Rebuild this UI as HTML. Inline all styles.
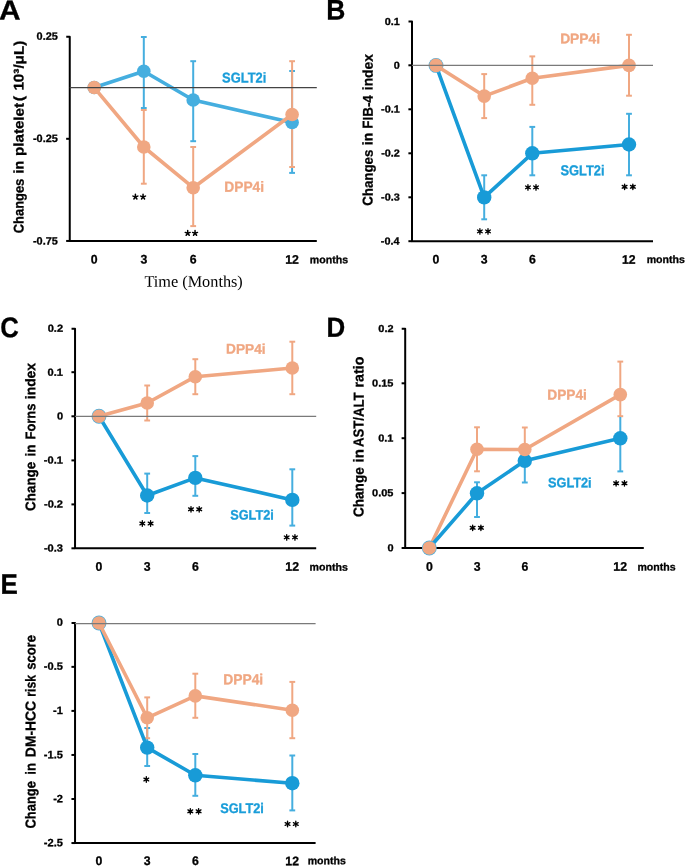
<!DOCTYPE html>
<html><head><meta charset="utf-8"><style>
html,body{margin:0;padding:0;background:#fff;width:685px;height:866px;overflow:hidden}
svg{display:block;will-change:transform}
</style></head><body>
<svg width="685" height="866" viewBox="0 0 685 866">
<path d="M66.25,36.75 H69.75 V240.95 H316.8" fill="none" stroke="#000" stroke-width="2" stroke-linejoin="round"/>
<line x1="66.15" y1="138.8" x2="69.75" y2="138.8" stroke="#000" stroke-width="2.0" stroke-linecap="butt"/>
<line x1="66.15" y1="240.95" x2="69.75" y2="240.95" stroke="#000" stroke-width="2.0" stroke-linecap="butt"/>
<line x1="143.8" y1="37" x2="143.8" y2="108" stroke="#45AEDF" stroke-width="2.0" stroke-linecap="butt"/>
<line x1="140.9" y1="37" x2="146.7" y2="37" stroke="#45AEDF" stroke-width="2.0" stroke-linecap="butt"/>
<line x1="140.9" y1="108" x2="146.7" y2="108" stroke="#45AEDF" stroke-width="2.0" stroke-linecap="butt"/>
<line x1="193.2" y1="61.2" x2="193.2" y2="141.2" stroke="#45AEDF" stroke-width="2.0" stroke-linecap="butt"/>
<line x1="190.3" y1="61.2" x2="196.1" y2="61.2" stroke="#45AEDF" stroke-width="2.0" stroke-linecap="butt"/>
<line x1="190.3" y1="141.2" x2="196.1" y2="141.2" stroke="#45AEDF" stroke-width="2.0" stroke-linecap="butt"/>
<line x1="292.1" y1="71" x2="292.1" y2="172.9" stroke="#45AEDF" stroke-width="2.0" stroke-linecap="butt"/>
<line x1="289.2" y1="71" x2="295" y2="71" stroke="#45AEDF" stroke-width="2.0" stroke-linecap="butt"/>
<line x1="289.2" y1="172.9" x2="295" y2="172.9" stroke="#45AEDF" stroke-width="2.0" stroke-linecap="butt"/>
<line x1="143.8" y1="110" x2="143.8" y2="183.7" stroke="#F0A782" stroke-width="2.0" stroke-linecap="butt"/>
<line x1="140.9" y1="110" x2="146.7" y2="110" stroke="#F0A782" stroke-width="2.0" stroke-linecap="butt"/>
<line x1="140.9" y1="183.7" x2="146.7" y2="183.7" stroke="#F0A782" stroke-width="2.0" stroke-linecap="butt"/>
<line x1="193.2" y1="147" x2="193.2" y2="226.1" stroke="#F0A782" stroke-width="2.0" stroke-linecap="butt"/>
<line x1="190.3" y1="147" x2="196.1" y2="147" stroke="#F0A782" stroke-width="2.0" stroke-linecap="butt"/>
<line x1="190.3" y1="226.1" x2="196.1" y2="226.1" stroke="#F0A782" stroke-width="2.0" stroke-linecap="butt"/>
<line x1="292.1" y1="61.2" x2="292.1" y2="167" stroke="#F0A782" stroke-width="2.0" stroke-linecap="butt"/>
<line x1="289.2" y1="61.2" x2="295" y2="61.2" stroke="#F0A782" stroke-width="2.0" stroke-linecap="butt"/>
<line x1="289.2" y1="167" x2="295" y2="167" stroke="#F0A782" stroke-width="2.0" stroke-linecap="butt"/>
<polyline points="94.2,87.55 143.8,71.3 193.2,100 292.1,122.5" fill="none" stroke="#45AEDF" stroke-width="3.6" stroke-linejoin="round" stroke-linecap="round"/>
<circle cx="94.2" cy="87.55" r="6.8" fill="#45AEDF"/>
<circle cx="143.8" cy="71.3" r="6.8" fill="#45AEDF"/>
<circle cx="193.2" cy="100" r="6.8" fill="#45AEDF"/>
<circle cx="292.1" cy="122.5" r="6.8" fill="#45AEDF"/>
<polyline points="94.2,87.55 143.8,147 193.2,187.7 292.1,114.5" fill="none" stroke="#F0A782" stroke-width="3.6" stroke-linejoin="round" stroke-linecap="round"/>
<circle cx="94.2" cy="87.55" r="6.8" fill="#F0A782"/>
<circle cx="143.8" cy="147" r="6.8" fill="#F0A782"/>
<circle cx="193.2" cy="187.7" r="6.8" fill="#F0A782"/>
<circle cx="292.1" cy="114.5" r="6.8" fill="#F0A782"/>
<path d="M408.5,21.6 H412 V241.2 H653" fill="none" stroke="#000" stroke-width="2" stroke-linejoin="round"/>
<line x1="408.4" y1="65.3" x2="412" y2="65.3" stroke="#000" stroke-width="2.0" stroke-linecap="butt"/>
<line x1="408.4" y1="109.3" x2="412" y2="109.3" stroke="#000" stroke-width="2.0" stroke-linecap="butt"/>
<line x1="408.4" y1="153.3" x2="412" y2="153.3" stroke="#000" stroke-width="2.0" stroke-linecap="butt"/>
<line x1="408.4" y1="197.3" x2="412" y2="197.3" stroke="#000" stroke-width="2.0" stroke-linecap="butt"/>
<line x1="408.4" y1="241.2" x2="412" y2="241.2" stroke="#000" stroke-width="2.0" stroke-linecap="butt"/>
<line x1="484.2" y1="175.3" x2="484.2" y2="219.3" stroke="#45AEDF" stroke-width="2.0" stroke-linecap="butt"/>
<line x1="481.3" y1="175.3" x2="487.1" y2="175.3" stroke="#45AEDF" stroke-width="2.0" stroke-linecap="butt"/>
<line x1="481.3" y1="219.3" x2="487.1" y2="219.3" stroke="#45AEDF" stroke-width="2.0" stroke-linecap="butt"/>
<line x1="532.3" y1="126.9" x2="532.3" y2="175.3" stroke="#45AEDF" stroke-width="2.0" stroke-linecap="butt"/>
<line x1="529.4" y1="126.9" x2="535.2" y2="126.9" stroke="#45AEDF" stroke-width="2.0" stroke-linecap="butt"/>
<line x1="529.4" y1="175.3" x2="535.2" y2="175.3" stroke="#45AEDF" stroke-width="2.0" stroke-linecap="butt"/>
<line x1="629" y1="113.8" x2="629" y2="175.3" stroke="#45AEDF" stroke-width="2.0" stroke-linecap="butt"/>
<line x1="626.1" y1="113.8" x2="631.9" y2="113.8" stroke="#45AEDF" stroke-width="2.0" stroke-linecap="butt"/>
<line x1="626.1" y1="175.3" x2="631.9" y2="175.3" stroke="#45AEDF" stroke-width="2.0" stroke-linecap="butt"/>
<line x1="484.2" y1="74.1" x2="484.2" y2="118.1" stroke="#F0A782" stroke-width="2.0" stroke-linecap="butt"/>
<line x1="481.3" y1="74.1" x2="487.1" y2="74.1" stroke="#F0A782" stroke-width="2.0" stroke-linecap="butt"/>
<line x1="481.3" y1="118.1" x2="487.1" y2="118.1" stroke="#F0A782" stroke-width="2.0" stroke-linecap="butt"/>
<line x1="532.3" y1="56.4" x2="532.3" y2="104.8" stroke="#F0A782" stroke-width="2.0" stroke-linecap="butt"/>
<line x1="529.4" y1="56.4" x2="535.2" y2="56.4" stroke="#F0A782" stroke-width="2.0" stroke-linecap="butt"/>
<line x1="529.4" y1="104.8" x2="535.2" y2="104.8" stroke="#F0A782" stroke-width="2.0" stroke-linecap="butt"/>
<line x1="629" y1="34.8" x2="629" y2="95.7" stroke="#F0A782" stroke-width="2.0" stroke-linecap="butt"/>
<line x1="626.1" y1="34.8" x2="631.9" y2="34.8" stroke="#F0A782" stroke-width="2.0" stroke-linecap="butt"/>
<line x1="626.1" y1="95.7" x2="631.9" y2="95.7" stroke="#F0A782" stroke-width="2.0" stroke-linecap="butt"/>
<polyline points="436,65.4 484.2,197.4 532.3,153.3 629,144.5" fill="none" stroke="#189BD7" stroke-width="3.6" stroke-linejoin="round" stroke-linecap="round"/>
<circle cx="436" cy="65.4" r="7.45" fill="#45AEDF"/>
<circle cx="484.2" cy="197.4" r="7.2" fill="#189BD7"/>
<circle cx="532.3" cy="153.3" r="7.2" fill="#189BD7"/>
<circle cx="629" cy="144.5" r="7.2" fill="#189BD7"/>
<polyline points="436,65.4 484.2,96.1 532.3,78.3 629,65.4" fill="none" stroke="#F0A782" stroke-width="3.6" stroke-linejoin="round" stroke-linecap="round"/>
<circle cx="436" cy="65.4" r="6.8" fill="#F0A782"/>
<circle cx="484.2" cy="96.1" r="6.8" fill="#F0A782"/>
<circle cx="532.3" cy="78.3" r="6.8" fill="#F0A782"/>
<circle cx="629" cy="65.4" r="6.8" fill="#F0A782"/>
<path d="M71.54,328.75 H75.04 V548.3 H316.2" fill="none" stroke="#000" stroke-width="2" stroke-linejoin="round"/>
<line x1="71.44" y1="372.2" x2="75.04" y2="372.2" stroke="#000" stroke-width="2.0" stroke-linecap="butt"/>
<line x1="71.44" y1="416.3" x2="75.04" y2="416.3" stroke="#000" stroke-width="2.0" stroke-linecap="butt"/>
<line x1="71.44" y1="460.4" x2="75.04" y2="460.4" stroke="#000" stroke-width="2.0" stroke-linecap="butt"/>
<line x1="71.44" y1="504.4" x2="75.04" y2="504.4" stroke="#000" stroke-width="2.0" stroke-linecap="butt"/>
<line x1="71.44" y1="548.3" x2="75.04" y2="548.3" stroke="#000" stroke-width="2.0" stroke-linecap="butt"/>
<line x1="147.2" y1="473.6" x2="147.2" y2="513" stroke="#45AEDF" stroke-width="2.0" stroke-linecap="butt"/>
<line x1="144.3" y1="473.6" x2="150.1" y2="473.6" stroke="#45AEDF" stroke-width="2.0" stroke-linecap="butt"/>
<line x1="144.3" y1="513" x2="150.1" y2="513" stroke="#45AEDF" stroke-width="2.0" stroke-linecap="butt"/>
<line x1="195.3" y1="456.1" x2="195.3" y2="495.8" stroke="#45AEDF" stroke-width="2.0" stroke-linecap="butt"/>
<line x1="192.4" y1="456.1" x2="198.2" y2="456.1" stroke="#45AEDF" stroke-width="2.0" stroke-linecap="butt"/>
<line x1="192.4" y1="495.8" x2="198.2" y2="495.8" stroke="#45AEDF" stroke-width="2.0" stroke-linecap="butt"/>
<line x1="292.3" y1="469.3" x2="292.3" y2="525.6" stroke="#45AEDF" stroke-width="2.0" stroke-linecap="butt"/>
<line x1="289.4" y1="469.3" x2="295.2" y2="469.3" stroke="#45AEDF" stroke-width="2.0" stroke-linecap="butt"/>
<line x1="289.4" y1="525.6" x2="295.2" y2="525.6" stroke="#45AEDF" stroke-width="2.0" stroke-linecap="butt"/>
<line x1="147.2" y1="385.5" x2="147.2" y2="420.5" stroke="#F0A782" stroke-width="2.0" stroke-linecap="butt"/>
<line x1="144.3" y1="385.5" x2="150.1" y2="385.5" stroke="#F0A782" stroke-width="2.0" stroke-linecap="butt"/>
<line x1="144.3" y1="420.5" x2="150.1" y2="420.5" stroke="#F0A782" stroke-width="2.0" stroke-linecap="butt"/>
<line x1="195.3" y1="359.2" x2="195.3" y2="394.2" stroke="#F0A782" stroke-width="2.0" stroke-linecap="butt"/>
<line x1="192.4" y1="359.2" x2="198.2" y2="359.2" stroke="#F0A782" stroke-width="2.0" stroke-linecap="butt"/>
<line x1="192.4" y1="394.2" x2="198.2" y2="394.2" stroke="#F0A782" stroke-width="2.0" stroke-linecap="butt"/>
<line x1="292.3" y1="341.7" x2="292.3" y2="394.2" stroke="#F0A782" stroke-width="2.0" stroke-linecap="butt"/>
<line x1="289.4" y1="341.7" x2="295.2" y2="341.7" stroke="#F0A782" stroke-width="2.0" stroke-linecap="butt"/>
<line x1="289.4" y1="394.2" x2="295.2" y2="394.2" stroke="#F0A782" stroke-width="2.0" stroke-linecap="butt"/>
<polyline points="99,416.3 147.2,495.5 195.3,477.9 292.3,499.9" fill="none" stroke="#189BD7" stroke-width="3.6" stroke-linejoin="round" stroke-linecap="round"/>
<circle cx="99" cy="416.3" r="7.45" fill="#45AEDF"/>
<circle cx="147.2" cy="495.5" r="7.2" fill="#189BD7"/>
<circle cx="195.3" cy="477.9" r="7.2" fill="#189BD7"/>
<circle cx="292.3" cy="499.9" r="7.2" fill="#189BD7"/>
<polyline points="99,416.3 147.2,403 195.3,376.7 292.3,368" fill="none" stroke="#F0A782" stroke-width="3.6" stroke-linejoin="round" stroke-linecap="round"/>
<circle cx="99" cy="416.3" r="6.8" fill="#F0A782"/>
<circle cx="147.2" cy="403" r="6.8" fill="#F0A782"/>
<circle cx="195.3" cy="376.7" r="6.8" fill="#F0A782"/>
<circle cx="292.3" cy="368" r="6.8" fill="#F0A782"/>
<path d="M401.7,328.85 H405.2 V548 H643.8" fill="none" stroke="#000" stroke-width="2" stroke-linejoin="round"/>
<line x1="401.6" y1="383.3" x2="405.2" y2="383.3" stroke="#000" stroke-width="2.0" stroke-linecap="butt"/>
<line x1="401.6" y1="438.2" x2="405.2" y2="438.2" stroke="#000" stroke-width="2.0" stroke-linecap="butt"/>
<line x1="401.6" y1="493.1" x2="405.2" y2="493.1" stroke="#000" stroke-width="2.0" stroke-linecap="butt"/>
<line x1="401.6" y1="548" x2="405.2" y2="548" stroke="#000" stroke-width="2.0" stroke-linecap="butt"/>
<line x1="477" y1="427.3" x2="477" y2="471.3" stroke="#F0A782" stroke-width="2.0" stroke-linecap="butt"/>
<line x1="474.1" y1="427.3" x2="479.9" y2="427.3" stroke="#F0A782" stroke-width="2.0" stroke-linecap="butt"/>
<line x1="474.1" y1="471.3" x2="479.9" y2="471.3" stroke="#F0A782" stroke-width="2.0" stroke-linecap="butt"/>
<line x1="524.8" y1="449.5" x2="524.8" y2="427.5" stroke="#F0A782" stroke-width="2.0" stroke-linecap="butt"/>
<line x1="521.9" y1="427.5" x2="527.7" y2="427.5" stroke="#F0A782" stroke-width="2.0" stroke-linecap="butt"/>
<line x1="620.3" y1="361.6" x2="620.3" y2="416.2" stroke="#F0A782" stroke-width="2.0" stroke-linecap="butt"/>
<line x1="617.4" y1="361.6" x2="623.2" y2="361.6" stroke="#F0A782" stroke-width="2.0" stroke-linecap="butt"/>
<line x1="617.4" y1="416.2" x2="623.2" y2="416.2" stroke="#F0A782" stroke-width="2.0" stroke-linecap="butt"/>
<line x1="477" y1="482.3" x2="477" y2="517" stroke="#45AEDF" stroke-width="2.0" stroke-linecap="butt"/>
<line x1="474.1" y1="482.3" x2="479.9" y2="482.3" stroke="#45AEDF" stroke-width="2.0" stroke-linecap="butt"/>
<line x1="474.1" y1="517" x2="479.9" y2="517" stroke="#45AEDF" stroke-width="2.0" stroke-linecap="butt"/>
<line x1="524.8" y1="460.8" x2="524.8" y2="482.5" stroke="#45AEDF" stroke-width="2.0" stroke-linecap="butt"/>
<line x1="521.9" y1="482.5" x2="527.7" y2="482.5" stroke="#45AEDF" stroke-width="2.0" stroke-linecap="butt"/>
<line x1="620.3" y1="438.3" x2="620.3" y2="471.4" stroke="#45AEDF" stroke-width="2.0" stroke-linecap="butt"/>
<line x1="617.4" y1="471.4" x2="623.2" y2="471.4" stroke="#45AEDF" stroke-width="2.0" stroke-linecap="butt"/>
<line x1="620.3" y1="438.3" x2="620.3" y2="417" stroke="#45AEDF" stroke-width="2.0" stroke-linecap="butt"/>
<polyline points="429.3,548 477,449.3 524.8,449.5 620.3,394.6" fill="none" stroke="#F0A782" stroke-width="3.6" stroke-linejoin="round" stroke-linecap="round"/>
<polyline points="429.3,548 477,493.3 524.8,460.8 620.3,438.3" fill="none" stroke="#189BD7" stroke-width="3.6" stroke-linejoin="round" stroke-linecap="round"/>
<circle cx="429.3" cy="548" r="7.45" fill="#45AEDF"/>
<circle cx="477" cy="493.3" r="7.2" fill="#189BD7"/>
<circle cx="524.8" cy="460.8" r="7.2" fill="#189BD7"/>
<circle cx="620.3" cy="438.3" r="7.2" fill="#189BD7"/>
<circle cx="429.3" cy="548" r="6.8" fill="#F0A782"/>
<circle cx="477" cy="449.3" r="6.8" fill="#F0A782"/>
<circle cx="524.8" cy="449.5" r="6.8" fill="#F0A782"/>
<circle cx="620.3" cy="394.6" r="6.8" fill="#F0A782"/>
<path d="M71.54,622.9 H75.04 V843.05 H315.6" fill="none" stroke="#000" stroke-width="2" stroke-linejoin="round"/>
<line x1="71.44" y1="666.86" x2="75.04" y2="666.86" stroke="#000" stroke-width="2.0" stroke-linecap="butt"/>
<line x1="71.44" y1="710.9" x2="75.04" y2="710.9" stroke="#000" stroke-width="2.0" stroke-linecap="butt"/>
<line x1="71.44" y1="754.95" x2="75.04" y2="754.95" stroke="#000" stroke-width="2.0" stroke-linecap="butt"/>
<line x1="71.44" y1="799" x2="75.04" y2="799" stroke="#000" stroke-width="2.0" stroke-linecap="butt"/>
<line x1="71.44" y1="843.05" x2="75.04" y2="843.05" stroke="#000" stroke-width="2.0" stroke-linecap="butt"/>
<line x1="147.2" y1="728" x2="147.2" y2="766" stroke="#45AEDF" stroke-width="2.0" stroke-linecap="butt"/>
<line x1="144.3" y1="728" x2="150.1" y2="728" stroke="#45AEDF" stroke-width="2.0" stroke-linecap="butt"/>
<line x1="144.3" y1="766" x2="150.1" y2="766" stroke="#45AEDF" stroke-width="2.0" stroke-linecap="butt"/>
<line x1="195.3" y1="754" x2="195.3" y2="795.8" stroke="#45AEDF" stroke-width="2.0" stroke-linecap="butt"/>
<line x1="192.4" y1="754" x2="198.2" y2="754" stroke="#45AEDF" stroke-width="2.0" stroke-linecap="butt"/>
<line x1="192.4" y1="795.8" x2="198.2" y2="795.8" stroke="#45AEDF" stroke-width="2.0" stroke-linecap="butt"/>
<line x1="292.3" y1="755.5" x2="292.3" y2="810.4" stroke="#45AEDF" stroke-width="2.0" stroke-linecap="butt"/>
<line x1="289.4" y1="755.5" x2="295.2" y2="755.5" stroke="#45AEDF" stroke-width="2.0" stroke-linecap="butt"/>
<line x1="289.4" y1="810.4" x2="295.2" y2="810.4" stroke="#45AEDF" stroke-width="2.0" stroke-linecap="butt"/>
<line x1="147.2" y1="697.4" x2="147.2" y2="738.2" stroke="#F0A782" stroke-width="2.0" stroke-linecap="butt"/>
<line x1="144.3" y1="697.4" x2="150.1" y2="697.4" stroke="#F0A782" stroke-width="2.0" stroke-linecap="butt"/>
<line x1="144.3" y1="738.2" x2="150.1" y2="738.2" stroke="#F0A782" stroke-width="2.0" stroke-linecap="butt"/>
<line x1="195.3" y1="673.7" x2="195.3" y2="717.8" stroke="#F0A782" stroke-width="2.0" stroke-linecap="butt"/>
<line x1="192.4" y1="673.7" x2="198.2" y2="673.7" stroke="#F0A782" stroke-width="2.0" stroke-linecap="butt"/>
<line x1="192.4" y1="717.8" x2="198.2" y2="717.8" stroke="#F0A782" stroke-width="2.0" stroke-linecap="butt"/>
<line x1="292.3" y1="681.9" x2="292.3" y2="738.2" stroke="#F0A782" stroke-width="2.0" stroke-linecap="butt"/>
<line x1="289.4" y1="681.9" x2="295.2" y2="681.9" stroke="#F0A782" stroke-width="2.0" stroke-linecap="butt"/>
<line x1="289.4" y1="738.2" x2="295.2" y2="738.2" stroke="#F0A782" stroke-width="2.0" stroke-linecap="butt"/>
<polyline points="99,623 147.2,747.6 195.3,775.3 292.3,783.2" fill="none" stroke="#189BD7" stroke-width="3.6" stroke-linejoin="round" stroke-linecap="round"/>
<circle cx="99" cy="623" r="7.45" fill="#45AEDF"/>
<circle cx="147.2" cy="747.6" r="7.2" fill="#189BD7"/>
<circle cx="195.3" cy="775.3" r="7.2" fill="#189BD7"/>
<circle cx="292.3" cy="783.2" r="7.2" fill="#189BD7"/>
<polyline points="99,623 147.2,717.8 195.3,695.9 292.3,710.2" fill="none" stroke="#F0A782" stroke-width="3.6" stroke-linejoin="round" stroke-linecap="round"/>
<circle cx="99" cy="623" r="6.8" fill="#F0A782"/>
<circle cx="147.2" cy="717.8" r="6.8" fill="#F0A782"/>
<circle cx="195.3" cy="695.9" r="6.8" fill="#F0A782"/>
<circle cx="292.3" cy="710.2" r="6.8" fill="#F0A782"/>
<line x1="69.75" y1="87.55" x2="316.8" y2="87.55" stroke="#444" stroke-width="1.3" stroke-linecap="butt"/>
<line x1="412" y1="65.4" x2="653" y2="65.4" stroke="#7a7a7a" stroke-width="1.2" stroke-linecap="butt"/>
<line x1="75.04" y1="416.3" x2="316.2" y2="416.3" stroke="#7a7a7a" stroke-width="1.2" stroke-linecap="butt"/>
<line x1="75.04" y1="623.6" x2="315.6" y2="623.6" stroke="#7a7a7a" stroke-width="1.3" stroke-linecap="butt"/>
<text transform="rotate(0.05 9.67 19.45)" x="-1.13" y="19.45" font-size="27.47" font-weight="bold" font-family="Liberation Sans" fill="#000" stroke="#000" stroke-width="0.3" textLength="21.59" lengthAdjust="spacingAndGlyphs">A</text>
<text transform="rotate(0.05 335.72 19.45)" x="326.17" y="19.45" font-size="28.2" font-weight="bold" font-family="Liberation Sans" fill="#000" stroke="#000" stroke-width="0.3" textLength="19.1" lengthAdjust="spacingAndGlyphs">B</text>
<text transform="rotate(0.05 9.6 337.16)" x="0.32" y="337.16" font-size="28.53" font-weight="bold" font-family="Liberation Sans" fill="#000" stroke="#000" stroke-width="0.3" textLength="18.55" lengthAdjust="spacingAndGlyphs">C</text>
<text transform="rotate(0.05 335.74 336.85)" x="326.39" y="336.85" font-size="27.76" font-weight="bold" font-family="Liberation Sans" fill="#000" stroke="#000" stroke-width="0.3" textLength="18.7" lengthAdjust="spacingAndGlyphs">D</text>
<text transform="rotate(0.05 9.17 593.88)" x="0.5" y="593.88" font-size="28.24" font-weight="bold" font-family="Liberation Sans" fill="#000" stroke="#000" stroke-width="0.3" textLength="17.34" lengthAdjust="spacingAndGlyphs">E</text>
<text transform="rotate(0.05 47.22 39.77)" x="36.59" y="39.77" font-size="10.66" font-weight="bold" font-family="Liberation Sans" fill="#000" stroke="#000" stroke-width="0.3" textLength="21.27" lengthAdjust="spacingAndGlyphs">0.25</text>
<text transform="rotate(0.05 45.39 142.07)" x="32.93" y="142.07" font-size="10.66" font-weight="bold" font-family="Liberation Sans" fill="#000" stroke="#000" stroke-width="0.3" textLength="24.91" lengthAdjust="spacingAndGlyphs">-0.25</text>
<text transform="rotate(0.05 45.39 244.47)" x="32.93" y="244.47" font-size="10.66" font-weight="bold" font-family="Liberation Sans" fill="#000" stroke="#000" stroke-width="0.3" textLength="24.91" lengthAdjust="spacingAndGlyphs">-0.75</text>
<text transform="rotate(0.05 392.21 25.1)" x="384.66" y="25.1" font-size="10.17" font-weight="bold" font-family="Liberation Sans" fill="#000" stroke="#000" stroke-width="0.3" textLength="15.09" lengthAdjust="spacingAndGlyphs">0.1</text>
<text transform="rotate(0.05 396.87 68.8)" x="393.85" y="68.8" font-size="10.17" font-weight="bold" font-family="Liberation Sans" fill="#000" stroke="#000" stroke-width="0.3" textLength="6.04" lengthAdjust="spacingAndGlyphs">0</text>
<text transform="rotate(0.05 390.39 112.55)" x="381.04" y="112.55" font-size="10.17" font-weight="bold" font-family="Liberation Sans" fill="#000" stroke="#000" stroke-width="0.3" textLength="18.71" lengthAdjust="spacingAndGlyphs">-0.1</text>
<text transform="rotate(0.05 390.52 156.6)" x="381.17" y="156.6" font-size="10.17" font-weight="bold" font-family="Liberation Sans" fill="#000" stroke="#000" stroke-width="0.3" textLength="18.71" lengthAdjust="spacingAndGlyphs">-0.2</text>
<text transform="rotate(0.05 390.48 200.59)" x="381.12" y="200.59" font-size="10.17" font-weight="bold" font-family="Liberation Sans" fill="#000" stroke="#000" stroke-width="0.3" textLength="18.71" lengthAdjust="spacingAndGlyphs">-0.3</text>
<text transform="rotate(0.05 390.15 244.5)" x="380.8" y="244.5" font-size="10.17" font-weight="bold" font-family="Liberation Sans" fill="#000" stroke="#000" stroke-width="0.3" textLength="18.71" lengthAdjust="spacingAndGlyphs">-0.4</text>
<text transform="rotate(0.05 55.36 331.83)" x="47.66" y="331.83" font-size="10.25" font-weight="bold" font-family="Liberation Sans" fill="#000" stroke="#000" stroke-width="0.3" textLength="15.4" lengthAdjust="spacingAndGlyphs">0.2</text>
<text transform="rotate(0.05 55.23 375.73)" x="47.53" y="375.73" font-size="10.25" font-weight="bold" font-family="Liberation Sans" fill="#000" stroke="#000" stroke-width="0.3" textLength="15.4" lengthAdjust="spacingAndGlyphs">0.1</text>
<text transform="rotate(0.05 59.98 419.63)" x="56.9" y="419.63" font-size="10.25" font-weight="bold" font-family="Liberation Sans" fill="#000" stroke="#000" stroke-width="0.3" textLength="6.16" lengthAdjust="spacingAndGlyphs">0</text>
<text transform="rotate(0.05 53.37 463.43)" x="43.83" y="463.43" font-size="10.25" font-weight="bold" font-family="Liberation Sans" fill="#000" stroke="#000" stroke-width="0.3" textLength="19.09" lengthAdjust="spacingAndGlyphs">-0.1</text>
<text transform="rotate(0.05 53.51 507.53)" x="43.96" y="507.53" font-size="10.25" font-weight="bold" font-family="Liberation Sans" fill="#000" stroke="#000" stroke-width="0.3" textLength="19.09" lengthAdjust="spacingAndGlyphs">-0.2</text>
<text transform="rotate(0.05 53.46 551.52)" x="43.92" y="551.52" font-size="10.25" font-weight="bold" font-family="Liberation Sans" fill="#000" stroke="#000" stroke-width="0.3" textLength="19.09" lengthAdjust="spacingAndGlyphs">-0.3</text>
<text transform="rotate(0.05 385.97 331.96)" x="378.34" y="331.96" font-size="10.07" font-weight="bold" font-family="Liberation Sans" fill="#000" stroke="#000" stroke-width="0.3" textLength="15.25" lengthAdjust="spacingAndGlyphs">0.2</text>
<text transform="rotate(0.05 382.79 386.61)" x="372.11" y="386.61" font-size="10.07" font-weight="bold" font-family="Liberation Sans" fill="#000" stroke="#000" stroke-width="0.3" textLength="21.35" lengthAdjust="spacingAndGlyphs">0.15</text>
<text transform="rotate(0.05 385.83 441.46)" x="378.21" y="441.46" font-size="10.07" font-weight="bold" font-family="Liberation Sans" fill="#000" stroke="#000" stroke-width="0.3" textLength="15.25" lengthAdjust="spacingAndGlyphs">0.1</text>
<text transform="rotate(0.05 382.79 496.36)" x="372.11" y="496.36" font-size="10.07" font-weight="bold" font-family="Liberation Sans" fill="#000" stroke="#000" stroke-width="0.3" textLength="21.35" lengthAdjust="spacingAndGlyphs">0.05</text>
<text transform="rotate(0.05 390.54 551.26)" x="387.49" y="551.26" font-size="10.07" font-weight="bold" font-family="Liberation Sans" fill="#000" stroke="#000" stroke-width="0.3" textLength="6.1" lengthAdjust="spacingAndGlyphs">0</text>
<text transform="rotate(0.05 59.96 625.67)" x="56.88" y="625.67" font-size="10.67" font-weight="bold" font-family="Liberation Sans" fill="#000" stroke="#000" stroke-width="0.3" textLength="6.16" lengthAdjust="spacingAndGlyphs">0</text>
<text transform="rotate(0.05 53.35 669.87)" x="43.81" y="669.87" font-size="10.67" font-weight="bold" font-family="Liberation Sans" fill="#000" stroke="#000" stroke-width="0.3" textLength="19.09" lengthAdjust="spacingAndGlyphs">-0.5</text>
<text transform="rotate(0.05 57.98 713.97)" x="53.05" y="713.97" font-size="10.67" font-weight="bold" font-family="Liberation Sans" fill="#000" stroke="#000" stroke-width="0.3" textLength="9.85" lengthAdjust="spacingAndGlyphs">-1</text>
<text transform="rotate(0.05 53.35 758.22)" x="43.81" y="758.22" font-size="10.67" font-weight="bold" font-family="Liberation Sans" fill="#000" stroke="#000" stroke-width="0.3" textLength="19.09" lengthAdjust="spacingAndGlyphs">-1.5</text>
<text transform="rotate(0.05 58.11 802.33)" x="53.18" y="802.33" font-size="10.67" font-weight="bold" font-family="Liberation Sans" fill="#000" stroke="#000" stroke-width="0.3" textLength="9.85" lengthAdjust="spacingAndGlyphs">-2</text>
<text transform="rotate(0.05 53.35 846.27)" x="43.81" y="846.27" font-size="10.67" font-weight="bold" font-family="Liberation Sans" fill="#000" stroke="#000" stroke-width="0.3" textLength="19.09" lengthAdjust="spacingAndGlyphs">-2.5</text>
<text transform="rotate(0.05 94.2 263.63)" x="90.79" y="263.63" font-size="12.46" font-weight="bold" font-family="Liberation Sans" fill="#000" stroke="#000" stroke-width="0.3" textLength="6.83" lengthAdjust="spacingAndGlyphs">0</text>
<text transform="rotate(0.05 143.89 263.6)" x="140.47" y="263.6" font-size="12.46" font-weight="bold" font-family="Liberation Sans" fill="#000" stroke="#000" stroke-width="0.3" textLength="6.83" lengthAdjust="spacingAndGlyphs">3</text>
<text transform="rotate(0.05 193.2 263.63)" x="189.79" y="263.63" font-size="12.46" font-weight="bold" font-family="Liberation Sans" fill="#000" stroke="#000" stroke-width="0.3" textLength="6.83" lengthAdjust="spacingAndGlyphs">6</text>
<text transform="rotate(0.05 291.97 263.75)" x="285.14" y="263.75" font-size="12.46" font-weight="bold" font-family="Liberation Sans" fill="#000" stroke="#000" stroke-width="0.3" textLength="13.66" lengthAdjust="spacingAndGlyphs">12</text>
<text transform="rotate(0.05 328.97 263.34)" x="309.85" y="263.34" font-size="10.63" font-weight="bold" font-family="Liberation Sans" fill="#000" stroke="#000" stroke-width="0.3" textLength="38.23" lengthAdjust="spacingAndGlyphs">months</text>
<text transform="rotate(0.05 436 263.53)" x="432.59" y="263.53" font-size="12.46" font-weight="bold" font-family="Liberation Sans" fill="#000" stroke="#000" stroke-width="0.3" textLength="6.83" lengthAdjust="spacingAndGlyphs">0</text>
<text transform="rotate(0.05 484.29 263.5)" x="480.87" y="263.5" font-size="12.46" font-weight="bold" font-family="Liberation Sans" fill="#000" stroke="#000" stroke-width="0.3" textLength="6.83" lengthAdjust="spacingAndGlyphs">3</text>
<text transform="rotate(0.05 532.3 263.53)" x="528.89" y="263.53" font-size="12.46" font-weight="bold" font-family="Liberation Sans" fill="#000" stroke="#000" stroke-width="0.3" textLength="6.83" lengthAdjust="spacingAndGlyphs">6</text>
<text transform="rotate(0.05 628.87 263.65)" x="622.04" y="263.65" font-size="12.46" font-weight="bold" font-family="Liberation Sans" fill="#000" stroke="#000" stroke-width="0.3" textLength="13.66" lengthAdjust="spacingAndGlyphs">12</text>
<text transform="rotate(0.05 665.77 263.04)" x="646.65" y="263.04" font-size="10.63" font-weight="bold" font-family="Liberation Sans" fill="#000" stroke="#000" stroke-width="0.3" textLength="38.23" lengthAdjust="spacingAndGlyphs">months</text>
<text transform="rotate(0.05 99 570.73)" x="95.59" y="570.73" font-size="12.46" font-weight="bold" font-family="Liberation Sans" fill="#000" stroke="#000" stroke-width="0.3" textLength="6.83" lengthAdjust="spacingAndGlyphs">0</text>
<text transform="rotate(0.05 147.29 570.7)" x="143.87" y="570.7" font-size="12.46" font-weight="bold" font-family="Liberation Sans" fill="#000" stroke="#000" stroke-width="0.3" textLength="6.83" lengthAdjust="spacingAndGlyphs">3</text>
<text transform="rotate(0.05 195.3 570.73)" x="191.89" y="570.73" font-size="12.46" font-weight="bold" font-family="Liberation Sans" fill="#000" stroke="#000" stroke-width="0.3" textLength="6.83" lengthAdjust="spacingAndGlyphs">6</text>
<text transform="rotate(0.05 292.17 570.85)" x="285.34" y="570.85" font-size="12.46" font-weight="bold" font-family="Liberation Sans" fill="#000" stroke="#000" stroke-width="0.3" textLength="13.66" lengthAdjust="spacingAndGlyphs">12</text>
<text transform="rotate(0.05 328.67 570.64)" x="309.55" y="570.64" font-size="10.63" font-weight="bold" font-family="Liberation Sans" fill="#000" stroke="#000" stroke-width="0.3" textLength="38.23" lengthAdjust="spacingAndGlyphs">months</text>
<text transform="rotate(0.05 429.3 570.73)" x="425.89" y="570.73" font-size="12.46" font-weight="bold" font-family="Liberation Sans" fill="#000" stroke="#000" stroke-width="0.3" textLength="6.83" lengthAdjust="spacingAndGlyphs">0</text>
<text transform="rotate(0.05 477.09 570.7)" x="473.67" y="570.7" font-size="12.46" font-weight="bold" font-family="Liberation Sans" fill="#000" stroke="#000" stroke-width="0.3" textLength="6.83" lengthAdjust="spacingAndGlyphs">3</text>
<text transform="rotate(0.05 524.8 570.73)" x="521.39" y="570.73" font-size="12.46" font-weight="bold" font-family="Liberation Sans" fill="#000" stroke="#000" stroke-width="0.3" textLength="6.83" lengthAdjust="spacingAndGlyphs">6</text>
<text transform="rotate(0.05 620.17 570.85)" x="613.34" y="570.85" font-size="12.46" font-weight="bold" font-family="Liberation Sans" fill="#000" stroke="#000" stroke-width="0.3" textLength="13.66" lengthAdjust="spacingAndGlyphs">12</text>
<text transform="rotate(0.05 656.57 570.44)" x="637.45" y="570.44" font-size="10.63" font-weight="bold" font-family="Liberation Sans" fill="#000" stroke="#000" stroke-width="0.3" textLength="38.23" lengthAdjust="spacingAndGlyphs">months</text>
<text transform="rotate(0.05 99 865.03)" x="95.59" y="865.03" font-size="12.46" font-weight="bold" font-family="Liberation Sans" fill="#000" stroke="#000" stroke-width="0.3" textLength="6.83" lengthAdjust="spacingAndGlyphs">0</text>
<text transform="rotate(0.05 147.29 865)" x="143.87" y="865" font-size="12.46" font-weight="bold" font-family="Liberation Sans" fill="#000" stroke="#000" stroke-width="0.3" textLength="6.83" lengthAdjust="spacingAndGlyphs">3</text>
<text transform="rotate(0.05 195.3 865.03)" x="191.89" y="865.03" font-size="12.46" font-weight="bold" font-family="Liberation Sans" fill="#000" stroke="#000" stroke-width="0.3" textLength="6.83" lengthAdjust="spacingAndGlyphs">6</text>
<text transform="rotate(0.05 292.17 865.15)" x="285.34" y="865.15" font-size="12.46" font-weight="bold" font-family="Liberation Sans" fill="#000" stroke="#000" stroke-width="0.3" textLength="13.66" lengthAdjust="spacingAndGlyphs">12</text>
<text transform="rotate(0.05 326.77 864.24)" x="307.65" y="864.24" font-size="10.63" font-weight="bold" font-family="Liberation Sans" fill="#000" stroke="#000" stroke-width="0.3" textLength="38.23" lengthAdjust="spacingAndGlyphs">months</text>
<text transform="rotate(0.05 193.61 286.76)" x="144.41" y="286.76" font-size="16.23" font-weight="normal" font-family="Liberation Serif" fill="#000" textLength="98.4" lengthAdjust="spacingAndGlyphs">Time (Months)</text>
<text transform="translate(23.6,233.23) rotate(-89.95)" x="0" y="0" font-size="14" font-weight="bold" font-family="Liberation Sans" fill="#000" stroke="#000" stroke-width="0.3" textLength="54.52" lengthAdjust="spacingAndGlyphs">Changes</text>
<text transform="translate(23.6,173.55) rotate(-89.95)" x="0" y="0" font-size="14" font-weight="bold" font-family="Liberation Sans" fill="#000" stroke="#000" stroke-width="0.3" textLength="12.66" lengthAdjust="spacingAndGlyphs">in</text>
<text transform="translate(23.6,155.95) rotate(-89.95)" x="0" y="0" font-size="14" font-weight="bold" font-family="Liberation Sans" fill="#000" stroke="#000" stroke-width="0.3" textLength="52.96" lengthAdjust="spacingAndGlyphs">platelet</text>
<text transform="translate(23.6,101.15) rotate(-89.95)" x="0" y="0" font-size="14" font-weight="bold" font-family="Liberation Sans" fill="#000" stroke="#000" stroke-width="0.3" textLength="5.31" lengthAdjust="spacingAndGlyphs">(</text>
<text transform="translate(23.6,90.61) rotate(-89.95)" x="0" y="0" font-size="14" font-weight="bold" font-family="Liberation Sans" fill="#000" stroke="#000" stroke-width="0.3" textLength="49.89" lengthAdjust="spacingAndGlyphs">10³/μL)</text>
<text transform="translate(372.62,205.72) rotate(-89.95)" x="0" y="0" font-size="14.15" font-weight="bold" font-family="Liberation Sans" fill="#000" stroke="#000" stroke-width="0.3" textLength="56.05" lengthAdjust="spacingAndGlyphs">Changes</text>
<text transform="translate(372.62,145.17) rotate(-89.95)" x="0" y="0" font-size="14.15" font-weight="bold" font-family="Liberation Sans" fill="#000" stroke="#000" stroke-width="0.3" textLength="12.43" lengthAdjust="spacingAndGlyphs">in</text>
<text transform="translate(372.62,128.67) rotate(-89.95)" x="0" y="0" font-size="14.15" font-weight="bold" font-family="Liberation Sans" fill="#000" stroke="#000" stroke-width="0.3" textLength="33.46" lengthAdjust="spacingAndGlyphs">FIB-4</text>
<text transform="translate(372.62,90.18) rotate(-89.95)" x="0" y="0" font-size="14.15" font-weight="bold" font-family="Liberation Sans" fill="#000" stroke="#000" stroke-width="0.3" textLength="36.08" lengthAdjust="spacingAndGlyphs">index</text>
<text transform="translate(35.29,510.91) rotate(-89.95)" x="0" y="0" font-size="14" font-weight="bold" font-family="Liberation Sans" fill="#000" stroke="#000" stroke-width="0.3" textLength="49.1" lengthAdjust="spacingAndGlyphs">Change</text>
<text transform="translate(35.29,456.51) rotate(-89.95)" x="0" y="0" font-size="14" font-weight="bold" font-family="Liberation Sans" fill="#000" stroke="#000" stroke-width="0.3" textLength="11.96" lengthAdjust="spacingAndGlyphs">in</text>
<text transform="translate(35.29,439.5) rotate(-89.95)" x="0" y="0" font-size="14" font-weight="bold" font-family="Liberation Sans" fill="#000" stroke="#000" stroke-width="0.3" textLength="35.97" lengthAdjust="spacingAndGlyphs">Forns</text>
<text transform="translate(35.29,399.18) rotate(-89.95)" x="0" y="0" font-size="14" font-weight="bold" font-family="Liberation Sans" fill="#000" stroke="#000" stroke-width="0.3" textLength="36.18" lengthAdjust="spacingAndGlyphs">index</text>
<text transform="translate(363.6,517.01) rotate(-89.95)" x="0" y="0" font-size="14.43" font-weight="bold" font-family="Liberation Sans" fill="#000" stroke="#000" stroke-width="0.3" textLength="49.72" lengthAdjust="spacingAndGlyphs">Change</text>
<text transform="translate(363.6,462.5) rotate(-89.95)" x="0" y="0" font-size="14.43" font-weight="bold" font-family="Liberation Sans" fill="#000" stroke="#000" stroke-width="0.3" textLength="13.37" lengthAdjust="spacingAndGlyphs">in</text>
<text transform="translate(363.6,447.01) rotate(-89.95)" x="0" y="0" font-size="14.43" font-weight="bold" font-family="Liberation Sans" fill="#000" stroke="#000" stroke-width="0.3" textLength="54.59" lengthAdjust="spacingAndGlyphs">AST/ALT</text>
<text transform="translate(363.6,387.51) rotate(-89.95)" x="0" y="0" font-size="14.43" font-weight="bold" font-family="Liberation Sans" fill="#000" stroke="#000" stroke-width="0.3" textLength="30.9" lengthAdjust="spacingAndGlyphs">ratio</text>
<text transform="translate(35.51,828.53) rotate(-89.95)" x="0" y="0" font-size="14.42" font-weight="bold" font-family="Liberation Sans" fill="#000" stroke="#000" stroke-width="0.3" textLength="47.47" lengthAdjust="spacingAndGlyphs">Change</text>
<text transform="translate(35.51,774.64) rotate(-89.95)" x="0" y="0" font-size="14.42" font-weight="bold" font-family="Liberation Sans" fill="#000" stroke="#000" stroke-width="0.3" textLength="11.61" lengthAdjust="spacingAndGlyphs">in</text>
<text transform="translate(35.51,757.13) rotate(-89.95)" x="0" y="0" font-size="14.42" font-weight="bold" font-family="Liberation Sans" fill="#000" stroke="#000" stroke-width="0.3" textLength="56.21" lengthAdjust="spacingAndGlyphs">DM-HCC</text>
<text transform="translate(35.51,696.65) rotate(-89.95)" x="0" y="0" font-size="14.42" font-weight="bold" font-family="Liberation Sans" fill="#000" stroke="#000" stroke-width="0.3" textLength="21.7" lengthAdjust="spacingAndGlyphs">risk</text>
<text transform="translate(35.51,669.68) rotate(-89.95)" x="0" y="0" font-size="14.42" font-weight="bold" font-family="Liberation Sans" fill="#000" stroke="#000" stroke-width="0.3" textLength="34.51" lengthAdjust="spacingAndGlyphs">score</text>
<text transform="rotate(0.05 244.21 82.49)" x="222.12" y="82.49" font-size="14.28" font-weight="bold" font-family="Liberation Sans" fill="#1A9DD9" stroke="#1A9DD9" stroke-width="0.3" textLength="44.18" lengthAdjust="spacingAndGlyphs">SGLT2i</text>
<text transform="rotate(0.05 244.22 191.77)" x="224.37" y="191.77" font-size="14.7" font-weight="bold" font-family="Liberation Sans" fill="#F0A782" stroke="#F0A782" stroke-width="0.3" textLength="39.7" lengthAdjust="spacingAndGlyphs">DPP4i</text>
<text transform="rotate(0.05 580.08 43.25)" x="560.14" y="43.25" font-size="13.81" font-weight="bold" font-family="Liberation Sans" fill="#F0A782" stroke="#F0A782" stroke-width="0.3" textLength="39.88" lengthAdjust="spacingAndGlyphs">DPP4i</text>
<text transform="rotate(0.05 582.51 175.31)" x="560.46" y="175.31" font-size="14.31" font-weight="bold" font-family="Liberation Sans" fill="#1A9DD9" stroke="#1A9DD9" stroke-width="0.3" textLength="44.09" lengthAdjust="spacingAndGlyphs">SGLT2i</text>
<text transform="rotate(0.05 245.86 353.65)" x="226.12" y="353.65" font-size="14.01" font-weight="bold" font-family="Liberation Sans" fill="#F0A782" stroke="#F0A782" stroke-width="0.3" textLength="39.49" lengthAdjust="spacingAndGlyphs">DPP4i</text>
<text transform="rotate(0.05 251.99 519.51)" x="230.14" y="519.51" font-size="13.62" font-weight="bold" font-family="Liberation Sans" fill="#1A9DD9" stroke="#1A9DD9" stroke-width="0.3" textLength="43.71" lengthAdjust="spacingAndGlyphs">SGLT2i</text>
<text transform="rotate(0.05 567.08 399.52)" x="547.24" y="399.52" font-size="14.24" font-weight="bold" font-family="Liberation Sans" fill="#F0A782" stroke="#F0A782" stroke-width="0.3" textLength="39.67" lengthAdjust="spacingAndGlyphs">DPP4i</text>
<text transform="rotate(0.05 569.81 487.37)" x="547.97" y="487.37" font-size="13.71" font-weight="bold" font-family="Liberation Sans" fill="#1A9DD9" stroke="#1A9DD9" stroke-width="0.3" textLength="43.68" lengthAdjust="spacingAndGlyphs">SGLT2i</text>
<text transform="rotate(0.05 243.26 684.25)" x="223.3" y="684.25" font-size="14.5" font-weight="bold" font-family="Liberation Sans" fill="#F0A782" stroke="#F0A782" stroke-width="0.3" textLength="39.92" lengthAdjust="spacingAndGlyphs">DPP4i</text>
<text transform="rotate(0.05 241.99 813.01)" x="220.14" y="813.01" font-size="14.03" font-weight="bold" font-family="Liberation Sans" fill="#1A9DD9" stroke="#1A9DD9" stroke-width="0.3" textLength="43.71" lengthAdjust="spacingAndGlyphs">SGLT2i</text>
<path d="M135.4,196.9L135.4,194.3M135.4,196.9L137.87,196.1M135.4,196.9L136.93,199M135.4,196.9L133.87,199M135.4,196.9L132.93,196.1" stroke="#000" stroke-width="1.5" stroke-linecap="round" fill="none"/>
<path d="M143.05,196.9L143.05,194.3M143.05,196.9L145.52,196.1M143.05,196.9L144.58,199M143.05,196.9L141.52,199M143.05,196.9L140.58,196.1" stroke="#000" stroke-width="1.5" stroke-linecap="round" fill="none"/>
<path d="M187.7,233.2L187.7,230.6M187.7,233.2L190.17,232.4M187.7,233.2L189.23,235.3M187.7,233.2L186.17,235.3M187.7,233.2L185.23,232.4" stroke="#000" stroke-width="1.5" stroke-linecap="round" fill="none"/>
<path d="M195.05,233.2L195.05,230.6M195.05,233.2L197.52,232.4M195.05,233.2L196.58,235.3M195.05,233.2L193.52,235.3M195.05,233.2L192.58,232.4" stroke="#000" stroke-width="1.5" stroke-linecap="round" fill="none"/>
<path d="M479.9,231.4L479.9,228.65M479.9,231.4L482.28,230.03M479.9,231.4L482.28,232.78M479.9,231.4L479.9,234.15M479.9,231.4L477.52,232.78M479.9,231.4L477.52,230.03" stroke="#000" stroke-width="1.35" stroke-linecap="round" fill="none"/>
<path d="M488,231.4L488,228.65M488,231.4L490.38,230.03M488,231.4L490.38,232.78M488,231.4L488,234.15M488,231.4L485.62,232.78M488,231.4L485.62,230.03" stroke="#000" stroke-width="1.35" stroke-linecap="round" fill="none"/>
<path d="M527.95,187.4L527.95,184.65M527.95,187.4L530.33,186.03M527.95,187.4L530.33,188.78M527.95,187.4L527.95,190.15M527.95,187.4L525.57,188.78M527.95,187.4L525.57,186.03" stroke="#000" stroke-width="1.35" stroke-linecap="round" fill="none"/>
<path d="M536,187.4L536,184.65M536,187.4L538.38,186.03M536,187.4L538.38,188.78M536,187.4L536,190.15M536,187.4L533.62,188.78M536,187.4L533.62,186.03" stroke="#000" stroke-width="1.35" stroke-linecap="round" fill="none"/>
<path d="M624.6,186.8L624.6,184.05M624.6,186.8L626.98,185.43M624.6,186.8L626.98,188.18M624.6,186.8L624.6,189.55M624.6,186.8L622.22,188.18M624.6,186.8L622.22,185.43" stroke="#000" stroke-width="1.35" stroke-linecap="round" fill="none"/>
<path d="M632.85,186.8L632.85,184.05M632.85,186.8L635.23,185.43M632.85,186.8L635.23,188.18M632.85,186.8L632.85,189.55M632.85,186.8L630.47,188.18M632.85,186.8L630.47,185.43" stroke="#000" stroke-width="1.35" stroke-linecap="round" fill="none"/>
<path d="M142.3,523.5L142.3,520.75M142.3,523.5L144.68,522.12M142.3,523.5L144.68,524.88M142.3,523.5L142.3,526.25M142.3,523.5L139.92,524.88M142.3,523.5L139.92,522.12" stroke="#000" stroke-width="1.35" stroke-linecap="round" fill="none"/>
<path d="M150.6,523.5L150.6,520.75M150.6,523.5L152.98,522.12M150.6,523.5L152.98,524.88M150.6,523.5L150.6,526.25M150.6,523.5L148.22,524.88M150.6,523.5L148.22,522.12" stroke="#000" stroke-width="1.35" stroke-linecap="round" fill="none"/>
<path d="M191,509.3L191,506.55M191,509.3L193.38,507.93M191,509.3L193.38,510.68M191,509.3L191,512.05M191,509.3L188.62,510.68M191,509.3L188.62,507.93" stroke="#000" stroke-width="1.35" stroke-linecap="round" fill="none"/>
<path d="M199.2,509.3L199.2,506.55M199.2,509.3L201.58,507.93M199.2,509.3L201.58,510.68M199.2,509.3L199.2,512.05M199.2,509.3L196.82,510.68M199.2,509.3L196.82,507.93" stroke="#000" stroke-width="1.35" stroke-linecap="round" fill="none"/>
<path d="M286.7,537.4L286.7,534.65M286.7,537.4L289.08,536.02M286.7,537.4L289.08,538.77M286.7,537.4L286.7,540.15M286.7,537.4L284.32,538.77M286.7,537.4L284.32,536.02" stroke="#000" stroke-width="1.35" stroke-linecap="round" fill="none"/>
<path d="M294.95,537.4L294.95,534.65M294.95,537.4L297.33,536.02M294.95,537.4L297.33,538.77M294.95,537.4L294.95,540.15M294.95,537.4L292.57,538.77M294.95,537.4L292.57,536.02" stroke="#000" stroke-width="1.35" stroke-linecap="round" fill="none"/>
<path d="M472.65,527.8L472.65,525.05M472.65,527.8L475.03,526.42M472.65,527.8L475.03,529.17M472.65,527.8L472.65,530.55M472.65,527.8L470.27,529.17M472.65,527.8L470.27,526.42" stroke="#000" stroke-width="1.35" stroke-linecap="round" fill="none"/>
<path d="M480.9,527.8L480.9,525.05M480.9,527.8L483.28,526.42M480.9,527.8L483.28,529.17M480.9,527.8L480.9,530.55M480.9,527.8L478.52,529.17M480.9,527.8L478.52,526.42" stroke="#000" stroke-width="1.35" stroke-linecap="round" fill="none"/>
<path d="M616.1,483.3L616.1,480.55M616.1,483.3L618.48,481.93M616.1,483.3L618.48,484.68M616.1,483.3L616.1,486.05M616.1,483.3L613.72,484.68M616.1,483.3L613.72,481.93" stroke="#000" stroke-width="1.35" stroke-linecap="round" fill="none"/>
<path d="M624.45,483.3L624.45,480.55M624.45,483.3L626.83,481.93M624.45,483.3L626.83,484.68M624.45,483.3L624.45,486.05M624.45,483.3L622.07,484.68M624.45,483.3L622.07,481.93" stroke="#000" stroke-width="1.35" stroke-linecap="round" fill="none"/>
<path d="M190.3,811.3L190.3,808.55M190.3,811.3L192.68,809.92M190.3,811.3L192.68,812.67M190.3,811.3L190.3,814.05M190.3,811.3L187.92,812.67M190.3,811.3L187.92,809.92" stroke="#000" stroke-width="1.35" stroke-linecap="round" fill="none"/>
<path d="M198.6,811.3L198.6,808.55M198.6,811.3L200.98,809.92M198.6,811.3L200.98,812.67M198.6,811.3L198.6,814.05M198.6,811.3L196.22,812.67M198.6,811.3L196.22,809.92" stroke="#000" stroke-width="1.35" stroke-linecap="round" fill="none"/>
<path d="M287.55,824L287.55,821.25M287.55,824L289.93,822.62M287.55,824L289.93,825.38M287.55,824L287.55,826.75M287.55,824L285.17,825.38M287.55,824L285.17,822.62" stroke="#000" stroke-width="1.35" stroke-linecap="round" fill="none"/>
<path d="M295.8,824L295.8,821.25M295.8,824L298.18,822.62M295.8,824L298.18,825.38M295.8,824L295.8,826.75M295.8,824L293.42,825.38M295.8,824L293.42,822.62" stroke="#000" stroke-width="1.35" stroke-linecap="round" fill="none"/>
<path d="M146.3,779.5L146.3,776.75M146.3,779.5L148.68,778.12M146.3,779.5L148.68,780.88M146.3,779.5L146.3,782.25M146.3,779.5L143.92,780.88M146.3,779.5L143.92,778.12" stroke="#000" stroke-width="1.35" stroke-linecap="round" fill="none"/>
</svg>
</body></html>
